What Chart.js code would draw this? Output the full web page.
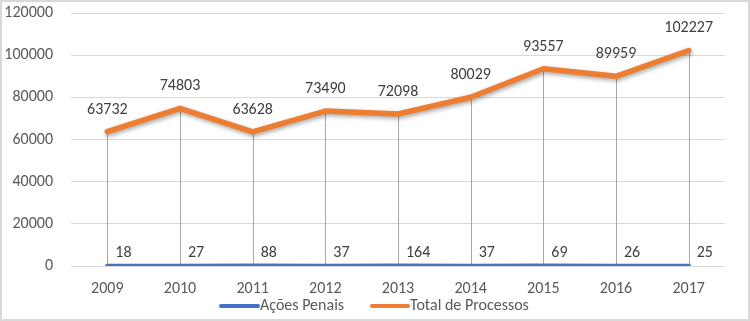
<!DOCTYPE html>
<html>
<head>
<meta charset="utf-8">
<script src="https://cdn.jsdelivr.net/npm/chart.js@4/dist/chart.umd.min.js"></script>
<style>
html,body{margin:0;padding:0;background:#fff;}
canvas{display:block;}
</style>
</head>
<body>
<canvas id="c" width="750" height="321"></canvas>
<script>
const categories = ['2009','2010','2011','2012','2013','2014','2015','2016','2017'];
const acoesPenais = [18, 27, 88, 37, 164, 37, 69, 26, 25];
const totalProcessos = [63732, 74803, 63628, 73490, 72098, 80029, 93557, 89959, 102227];
const yTicks = [0, 20000, 40000, 60000, 80000, 100000, 120000];
const seriesNames = ['Ações Penais', 'Total de Processos'];

const FONT = 'Carlito, Lato, "Liberation Sans", sans-serif';
const BLUE = '#4472c4';
const ORANGE = '#ed7d31';

const framePlugin = {
  id: 'frame',
  beforeDraw(chart) {
    const ctx = chart.ctx;
    ctx.save();
    ctx.fillStyle = '#ffffff';
    ctx.fillRect(0, 0, chart.width, chart.height);
    ctx.strokeStyle = '#d9d9d9';
    ctx.lineWidth = 2;
    ctx.strokeRect(1, 1, chart.width - 2, chart.height - 2);
    ctx.restore();
  }
};

const dropLinePlugin = {
  id: 'dropLines',
  beforeDatasetsDraw(chart) {
    const ctx = chart.ctx;
    const meta = chart.getDatasetMeta(1);
    const y0 = chart.scales.y.getPixelForValue(0);
    ctx.save();
    ctx.strokeStyle = '#a6a6a6';
    ctx.lineWidth = 1;
    meta.data.forEach(pt => {
      const x = Math.round(pt.x) + 0.5;
      ctx.beginPath();
      ctx.moveTo(x, pt.y);
      ctx.lineTo(x, y0);
      ctx.stroke();
    });
    ctx.restore();
  },
  beforeDatasetDraw(chart, args) {
    if (args.index === 1) {
      const ctx = chart.ctx;
      ctx.save();
      ctx.shadowColor = 'rgba(0,0,0,0.35)';
      ctx.shadowBlur = 4;
      ctx.shadowOffsetX = 1;
      ctx.shadowOffsetY = 2;
    }
  },
  afterDatasetDraw(chart, args) {
    if (args.index === 1) chart.ctx.restore();
  },
  afterDatasetsDraw(chart) {
    const ctx = chart.ctx;
    ctx.save();
    ctx.font = '16px ' + FONT;
    ctx.fillStyle = '#404040';
    ctx.textBaseline = 'middle';
    const m1 = chart.getDatasetMeta(1);
    ctx.textAlign = 'center';
    m1.data.forEach((pt, i) => {
      ctx.fillText(String(chart.data.datasets[1].data[i]), pt.x, pt.y - 22);
    });
    const m0 = chart.getDatasetMeta(0);
    ctx.textAlign = 'left';
    m0.data.forEach((pt, i) => {
      ctx.fillText(String(chart.data.datasets[0].data[i]), pt.x + 8, pt.y - 13);
    });
    const items = [
      {x: 219, w: 41, color: BLUE, text: seriesNames[0]},
      {x: 370, w: 40, color: ORANGE, text: seriesNames[1]}
    ];
    const ly = 306;
    items.forEach(it => {
      ctx.strokeStyle = it.color;
      ctx.lineWidth = 4;
      ctx.lineCap = 'round';
      ctx.beginPath();
      ctx.moveTo(it.x + 2, ly);
      ctx.lineTo(it.x + it.w - 2, ly);
      ctx.stroke();
      ctx.fillStyle = '#595959';
      ctx.textAlign = 'left';
      ctx.fillText(it.text, it.x + it.w, ly);
    });
    ctx.restore();
  }
};

new Chart(document.getElementById('c'), {
  type: 'line',
  data: {
    labels: categories,
    datasets: [
      {label: seriesNames[0], data: acoesPenais, borderColor: BLUE, backgroundColor: BLUE,
       borderWidth: 4.5, pointRadius: 0, borderCapStyle: 'round', borderJoinStyle: 'round', tension: 0},
      {label: seriesNames[1], data: totalProcessos, borderColor: ORANGE, backgroundColor: ORANGE,
       borderWidth: 5.5, pointRadius: 0, borderCapStyle: 'round', borderJoinStyle: 'round', tension: 0}
    ]
  },
  options: {
    responsive: false,
    animation: false,
    layout: {padding: {top: 13, right: 25, bottom: 0, left: 0}},
    plugins: {legend: {display: false}, tooltip: {enabled: false}},
    scales: {
      x: {
        offset: true,
        grid: {display: false, drawTicks: false},
        border: {display: false},
        ticks: {color: '#595959', font: {family: FONT, size: 16}, padding: 13, maxRotation: 0},
        afterFit(s) { s.height = 55; s.paddingLeft = 0; s.paddingRight = 0; }
      },
      y: {
        min: 0, max: 120000,
        afterBuildTicks(s) { s.ticks = yTicks.map(v => ({value: v})); },
        grid: {color: '#d9d9d9', lineWidth: 1, drawTicks: false},
        border: {display: false},
        ticks: {color: '#595959', font: {family: FONT, size: 16}, padding: 18,
                callback: v => String(v)},
        afterFit(s) { s.width = 71; s.paddingTop = 0; s.paddingBottom = 0; }
      }
    }
  },
  plugins: [framePlugin, dropLinePlugin]
});
</script>
</body>
</html>
